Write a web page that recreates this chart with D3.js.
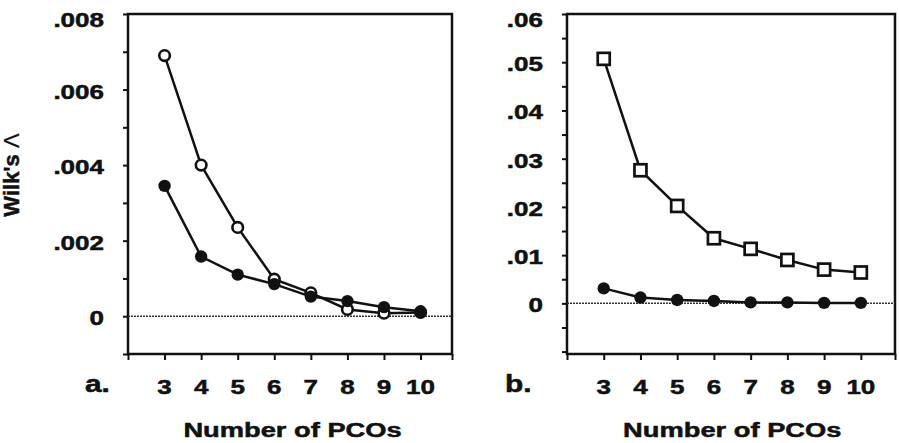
<!doctype html>
<html>
<head>
<script src="https://cdn.jsdelivr.net/npm/d3@7"></script>
<style>
  body { margin: 0; background: #fff; }
  text { font-family: "Liberation Sans", Arial, sans-serif; font-weight: bold; fill: #111; stroke: #111; stroke-width: 0.5px; }
</style>
</head>
<body>
<svg width="899" height="443"></svg>
<script>
// values
var pcos = [3, 4, 5, 6, 7, 8, 9, 10];
var aOpen   = [0.0069, 0.0040, 0.00235, 0.00098, 0.00062, 0.00018, 0.00008, 0.0001];
var aFilled = [0.00345, 0.00158, 0.0011, 0.00085, 0.00052, 0.0004, 0.00024, 0.00013];
var bSquare = [0.0507, 0.0276, 0.0202, 0.0135, 0.0113, 0.0090, 0.0070, 0.0064];
var bFilled = [0.0031, 0.0012, 0.0007, 0.0005, 0.0002, 0.0002, 0.0001, 0.0001];

var aTicks = [0, 0.002, 0.004, 0.006, 0.008];
var aTickLabels = ["0", ".002", ".004", ".006", ".008"];
var bTicks = [0, 0.01, 0.02, 0.03, 0.04, 0.05, 0.06];
var bTickLabels = ["0", ".01", ".02", ".03", ".04", ".05", ".06"];

var svg = d3.select("svg");
var plotTop = 14, plotBottom = 354, stretch = 1.3;

function label(g, txt, x, y, size, anchor) {
  return g.append("text")
    .attr("transform", "translate(" + x + "," + y + ") scale(" + stretch + ",1)")
    .attr("text-anchor", anchor)
    .style("font-size", size + "px")
    .text(txt);
}

function panel(opt) {
  var x = d3.scaleLinear().domain([2, opt.xMax]).range([opt.left, opt.right]);
  var y = d3.scaleLinear().domain(opt.yDomain).range([plotBottom, plotTop]);
  var g = svg.append("g");

  var yAxis = d3.axisLeft(y).tickValues(opt.minor).tickSize(5).tickSizeOuter(0).tickFormat("");
  var ya = g.append("g").attr("transform", "translate(" + opt.left + ",0)").call(yAxis);
  var xAxis = d3.axisBottom(x).tickValues(d3.range(2, 11).concat([opt.xMax])).tickSize(6).tickSizeOuter(0).tickFormat("");
  var xa = g.append("g").attr("transform", "translate(0," + plotBottom + ")").call(xAxis);
  [ya, xa].forEach(function(a) {
    a.select(".domain").remove();
    a.selectAll("line").attr("stroke", "#111").attr("stroke-width", 2);
  });

  g.append("rect")
    .attr("x", opt.left).attr("y", plotTop)
    .attr("width", opt.right - opt.left).attr("height", plotBottom - plotTop)
    .attr("fill", "none").attr("stroke", "#111").attr("stroke-width", 2.5);

  g.append("line")
    .attr("x1", opt.left).attr("x2", opt.right)
    .attr("y1", y(0)).attr("y2", y(0))
    .attr("stroke", "#333").attr("stroke-width", 1.5)
    .attr("stroke-dasharray", "2,1");

  // tick labels
  opt.ticks.forEach(function(t, i) {
    var off = (i === opt.ticks.length - 1) ? 13 : 9;
    label(g, opt.tickLabels[i], opt.left - 24, y(t) + off, 20, "end");
  });
  pcos.forEach(function(p) {
    label(g, p, x(p), 394, 20, "middle");
  });
  label(g, opt.letter, opt.letterX, 392, 23, "start");
  label(g, "Number of PCOs", (x(3) + x(10)) / 2, 437, 21, "middle");

  var line = d3.line().x(function(d, i) { return x(pcos[i]); }).y(function(d) { return y(d); });

  opt.series.forEach(function(s) {
    g.append("path").datum(s.values)
      .attr("d", line).attr("fill", "none")
      .attr("stroke", "#111").attr("stroke-width", 2.5);
    var m = g.selectAll(null).data(s.values).enter();
    if (s.shape === "square") {
      m.append("rect")
        .attr("x", function(d, i) { return x(pcos[i]) - 6; })
        .attr("y", function(d) { return y(d) - 6; })
        .attr("width", 12).attr("height", 12)
        .attr("fill", "#fff").attr("stroke", "#111").attr("stroke-width", 2.7);
    } else if (s.shape === "open") {
      m.append("circle")
        .attr("cx", function(d, i) { return x(pcos[i]); })
        .attr("cy", function(d) { return y(d); })
        .attr("r", 5.3)
        .attr("fill", "#fff").attr("stroke", "#111").attr("stroke-width", 2.6);
    } else {
      m.append("circle")
        .attr("cx", function(d, i) { return x(pcos[i]); })
        .attr("cy", function(d) { return y(d); })
        .attr("r", 6.2)
        .attr("fill", "#111");
    }
  });
}

panel({
  left: 128, right: 452, xMax: 10.86,
  yDomain: [-0.001, 0.008],
  minor: d3.range(-1, 9).map(function(i) { return i * 0.001; }),
  ticks: aTicks, tickLabels: aTickLabels,
  letter: "a.", letterX: 85,
  series: [{ values: aOpen, shape: "open" }, { values: aFilled, shape: "filled" }]
});

panel({
  left: 567, right: 895, xMax: 10.93,
  yDomain: [-0.0105, 0.06],
  minor: d3.range(-2, 13).map(function(i) { return i * 0.005; }),
  ticks: bTicks, tickLabels: bTickLabels,
  letter: "b.", letterX: 505,
  series: [{ values: bSquare, shape: "square" }, { values: bFilled, shape: "filled" }]
});

// y axis title
var yt = svg.append("text")
  .attr("transform", "translate(19,175) rotate(-90)")
  .attr("text-anchor", "middle")
  .style("font-size", "22px");
yt.append("tspan").text("Wilk's ");
yt.append("tspan").style("font-weight", "normal").style("stroke-width", "0.2px").text("Λ");
</script>
</body>
</html>
